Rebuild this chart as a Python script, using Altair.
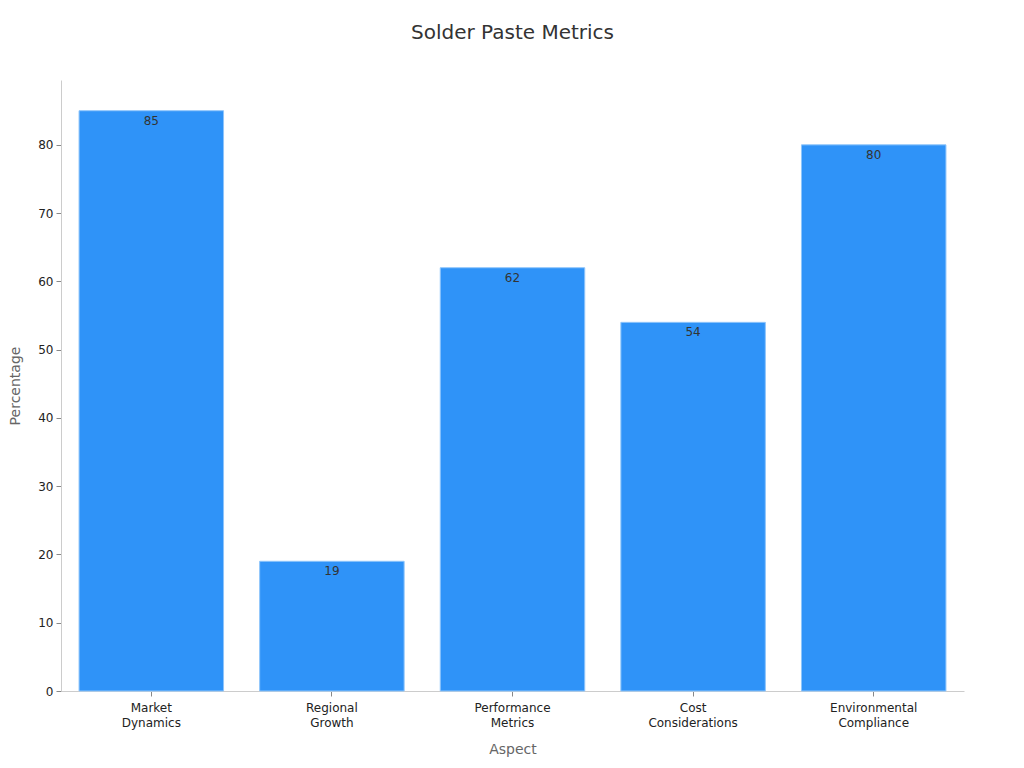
import altair as alt
import pandas as pd

aspects = ["Market Dynamics", "Regional Growth", "Performance Metrics", "Cost Considerations", "Environmental Compliance"]
values = [85, 19, 62, 54, 80]

df = pd.DataFrame({"Aspect": aspects, "Percentage": values})

FONT = "DejaVu Sans"

base = alt.Chart(df).encode(
    x=alt.X("Aspect:N", sort=aspects, title="Aspect",
            scale=alt.Scale(paddingInner=0.2, paddingOuter=0.1),
            axis=alt.Axis(labelAngle=0, labelExpr="split(datum.label, ' ')",
                          labelFontSize=12, labelColor="#222", labelFont=FONT, labelLineHeight=15,
                          titleFontSize=14, titleColor="#666", titleFont=FONT, titleFontWeight="normal",
                          titlePadding=14, tickColor="#888", tickSize=5,
                          domainColor="#ccc", labelPadding=6)),
    y=alt.Y("Percentage:Q", title="Percentage",
            scale=alt.Scale(domain=[0, 89.5], nice=False),
            axis=alt.Axis(values=[0, 10, 20, 30, 40, 50, 60, 70, 80], grid=False,
                          labelFontSize=12, labelColor="#222", labelFont=FONT,
                          titleFontSize=14, titleColor="#666", titleFont=FONT, titleFontWeight="normal",
                          titlePadding=15, tickColor="#888", tickSize=5,
                          domainColor="#ccc", labelPadding=3)),
)

bars = base.mark_bar(color="#2f93f8", stroke="#8ec5fb", strokeWidth=1)
text = base.mark_text(baseline="top", dy=5, fontSize=12, color="#333", font=FONT).encode(
    text="Percentage:Q")

chart = (bars + text).properties(
    width=903, height=611,
    title=alt.TitleParams("Solder Paste Metrics", fontSize=20, font=FONT, color="#333",
                          fontWeight="normal", anchor="middle", offset=37),
    autosize=alt.AutoSizeParams(type="none"),
    padding={"left": 53, "top": 72, "right": 52, "bottom": 68},
).configure_view(stroke=None)

chart.save("out.html", embed_options={"renderer": "svg", "actions": False})
